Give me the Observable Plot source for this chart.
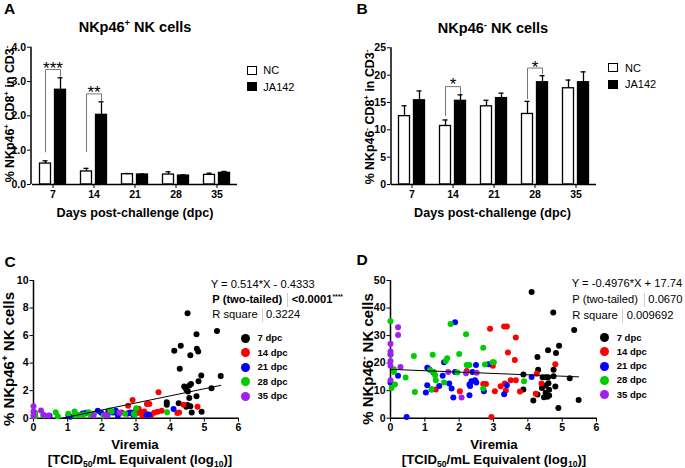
<!DOCTYPE html>
<html><head><meta charset="utf-8">
<script src="https://cdn.jsdelivr.net/npm/d3@7"></script>
<script src="https://cdn.jsdelivr.net/npm/@observablehq/plot@0.6"></script>
<style>
body{margin:0;background:#fff;}
#fig{position:relative;width:685px;height:468px;overflow:hidden;font-family:"Liberation Sans",Arial,sans-serif;color:#000;background:#fff;}
#fig svg{position:absolute;left:0;top:0;}
.t{position:absolute;white-space:nowrap;line-height:1;}
.c{transform:translate(-50%,-50%);}
.l{transform:translate(0,-50%);}
.r{transform:translate(-50%,-50%) rotate(-90deg);}
.sup{font-size:65%;position:relative;top:-0.6em;}
.sub{font-size:65%;position:relative;top:0.3em;}
.sep{position:absolute;width:1px;background:#cfcfcf;}
.box{position:absolute;box-sizing:border-box;border:1.3px solid #000;}
.dotlg{position:absolute;border-radius:50%;}
</style></head>
<body><div id="fig"></div>
<script>
const W = 685, H = 468;

// ---------- Bar panels (A, B) ----------
const days = [7, 14, 21, 28, 35];
const groups = ["NC", "JA142"];

const aMeanNC = [0.61, 0.38, 0.30, 0.29, 0.28];
const aSemNC  = [0.08, 0.09, 0.02, 0.08, 0.05];
const aMeanJA = [2.76, 2.03, 0.29, 0.26, 0.34];
const aSemJA  = [0.35, 0.38, 0.015, 0.02, 0.04];
const aYTicks = [0, 1, 2, 3, 4];
const aBrackets = [
  {day: 7,  left: 0.95, top: 3.35, right: 3.15, stars: "***", starY: 3.50},
  {day: 14, left: 0.96, top: 2.64, right: 2.43, stars: "**",  starY: 2.80}
];

const bMeanNC = [12.5, 10.7, 14.3, 12.9, 17.6];
const bSemNC  = [1.9, 1.1, 1.1, 2.3, 1.5];
const bMeanJA = [15.4, 15.3, 15.8, 18.7, 18.7];
const bSemJA  = [1.7, 1.1, 0.9, 1.2, 1.9];
const bYTicks = [0, 5, 10, 15, 20, 25];
const bBrackets = [
  {day: 14, left: 12.6, top: 17.9, right: 16.6, stars: "*", starY: 19.0},
  {day: 28, left: 15.7, top: 21.3, right: 20.2, stars: "*", starY: 22.1}
];

// ---------- Scatter panels (C, D) ----------
const dpcLabels = ["7 dpc", "14 dpc", "21 dpc", "28 dpc", "35 dpc"];
const dpcColors = ["#000000", "#ff0000", "#0000ff", "#00cc00", "#a020f0"];

const c7 = [[4.51,7.63],[5.37,6.33],[4.77,6.09],[4.31,5.26],[4.12,4.89],[4.78,5.04],[4.82,4.84],[4.59,4.57],[4.28,3.59],[4.91,3.10],[5.48,3.06],[4.61,2.49],[4.56,2.37],[4.41,2.30],[4.83,2.69],[4.45,2.20],[4.48,2.05],[4.52,1.93],[5.21,2.18],[4.77,1.59],[4.56,1.47],[3.90,1.15],[3.90,0.98],[4.25,1.08],[4.51,0.95],[4.59,0.86],[4.63,0.42],[4.92,0.46],[4.47,0.83]];
const c14 = [[3.66,1.88],[2.90,1.32],[2.77,0.90],[3.32,1.03],[3.39,1.03],[4.39,0.98],[4.80,0.83],[3.00,0.61],[3.08,0.68],[3.15,0.42],[3.24,0.49],[3.53,0.39],[3.63,0.46],[3.75,0.54],[4.26,0.42],[4.21,0.37],[2.46,0.29],[2.58,0.42],[2.74,0.34],[3.05,0.37],[3.34,0.29],[3.44,0.22],[2.83,0.42],[3.19,0.20]];
const c21 = [[4.10,0.66],[1.88,0.54],[1.44,0.34],[1.08,0.10],[1.02,0.22],[0.47,0.17],[2.32,0.42],[2.41,0.54],[2.47,0.20],[3.31,0.25],[3.38,0.25],[1.98,0.40],[1.54,0.39],[2.76,0.34],[2.89,0.39],[2.92,0.25],[2.19,0.49],[2.83,0.39]];
const c28 = [[3.01,0.73],[3.91,0.44],[0.65,0.44],[0.71,0.15],[1.20,0.49],[1.22,0.20],[1.02,0.32],[1.32,0.25],[1.46,0.25],[1.61,0.44],[1.66,0.25],[1.76,0.32],[2.05,0.20],[2.24,0.56],[2.29,0.49],[2.68,0.32],[2.96,0.25],[0.05,0.39],[0.05,0.15],[0.29,0.20],[2.94,0.32]];
const c35 = [[0.00,0.87],[0.00,0.49],[0.00,0.20],[0.22,0.56],[0.29,0.25],[0.44,0.20],[1.76,0.20],[2.10,0.25],[2.17,0.20],[2.51,0.39]];
const cFit = [0.514, -0.4333];
const cYTicks = [0, 2, 4, 6, 8, 10];

const d7 = [[4.11,45.8],[4.74,38.4],[5.35,32.0],[4.91,26.3],[4.59,24.7],[4.82,23.7],[4.28,22.2],[3.87,15.9],[4.30,17.6],[4.75,17.6],[4.43,14.9],[4.52,14.9],[4.59,14.9],[4.75,15.2],[5.22,14.5],[4.60,12.7],[4.52,11.9],[4.41,11.0],[4.80,11.5],[4.62,10.3],[3.87,10.4],[4.28,8.6],[4.52,9.2],[4.47,7.6],[4.57,7.8],[4.62,8.2],[4.16,6.4],[5.48,6.6],[4.89,3.7]];
const d14 = [[2.90,32.5],[3.31,33.3],[3.39,33.3],[3.65,29.3],[3.42,23.9],[3.62,21.1],[4.80,19.6],[2.98,19.0],[4.26,16.1],[2.22,17.1],[4.40,12.6],[1.32,10.4],[2.02,9.8],[2.70,12.4],[2.78,12.4],[3.04,9.8],[3.21,11.6],[3.33,12.6],[3.50,13.8],[3.65,13.8],[3.36,10.1],[3.77,9.7],[4.23,8.9],[2.94,0.4]];
const d21 = [[1.88,34.8],[0.22,15.4],[0.00,13.0],[1.07,18.3],[1.13,17.8],[1.25,16.6],[1.52,15.4],[1.56,20.3],[1.42,11.7],[1.07,12.0],[1.03,9.3],[1.20,10.4],[1.71,12.6],[1.78,10.8],[1.83,7.5],[1.88,16.8],[2.30,12.2],[2.32,11.7],[2.36,13.4],[2.39,16.8],[2.49,19.3],[2.46,13.8],[2.30,8.3],[0.47,0.4],[2.72,9.8],[2.50,13.0],[3.39,12.0],[3.31,8.7],[4.11,15.0],[2.85,19.6]];
const d28 = [[0.00,35.2],[1.75,34.2],[2.20,30.5],[2.70,25.6],[0.68,22.6],[1.23,23.0],[2.00,23.3],[1.65,21.8],[1.61,20.8],[0.00,23.0],[2.22,19.3],[2.30,19.3],[2.75,19.5],[2.97,20.3],[3.01,20.3],[0.10,17.8],[0.10,16.8],[1.15,17.5],[1.26,16.8],[1.30,15.6],[1.32,13.8],[1.56,13.0],[0.44,14.8],[1.95,16.6],[1.20,10.5],[0.13,12.2],[0.03,11.0],[0.71,9.5],[2.70,10.8],[3.89,13.4]];
const d35 = [[0.22,33.0],[0.22,30.2],[0.00,27.0],[0.00,24.2],[0.00,23.2],[0.00,20.8],[0.00,19.0],[0.29,18.6],[0.00,13.8],[1.68,16.8],[2.20,16.3],[2.51,16.5],[2.07,7.5]];
const dFit = [-0.4976, 17.74];
const dYTicks = [0, 10, 20, 30, 40, 50];
const xTicks = [0, 1, 2, 3, 4, 5, 6];

// ---------- helpers ----------
const fig = document.getElementById("fig");
const baseStyle = {background: "transparent", fontFamily: '"Liberation Sans", Arial, sans-serif', fontSize: "10.5px", fontWeight: "bold", color: "#000", overflow: "visible"};

function barRows(mNC, sNC, mJA, sJA) {
  return days.flatMap((d, i) => [
    {day: d, group: "NC", mean: mNC[i], top: mNC[i] + sNC[i]},
    {day: d, group: "JA142", mean: mJA[i], top: mJA[i] + sJA[i]}
  ]);
}
function bracketPts(br) {
  return br.flatMap((b, i) => [
    {id: i, day: b.day, group: "NC", y: b.left},
    {id: i, day: b.day, group: "NC", y: b.top},
    {id: i, day: b.day, group: "JA142", y: b.top},
    {id: i, day: b.day, group: "JA142", y: b.right}
  ]);
}
function margins(f) {
  return {width: W, height: H, marginLeft: f.x0, marginRight: W - f.x1, marginTop: f.yTop, marginBottom: H - f.yBot, style: baseStyle};
}
const axisPlots = [];
function barPanel(rows, br, f, yDomain, yTicks) {
  fig.appendChild(Plot.plot({
    ...margins(f),
    fx: {domain: days, padding: 0, axis: "bottom", label: null, tickSize: 4, tickPadding: 2},
    x: {domain: groups, paddingInner: 0.28, paddingOuter: 0.5, axis: null},
    y: {domain: yDomain, axis: null},
    marks: [
      Plot.barY(rows, {filter: d => d.group === "NC", fx: "day", x: "group", y: "mean", fill: "white", stroke: "black", strokeWidth: 1.3}),
      Plot.barY(rows, {filter: d => d.group === "JA142", fx: "day", x: "group", y: "mean", fill: "black", stroke: "black", strokeWidth: 1.3}),
      Plot.ruleX(rows, {fx: "day", x: "group", y1: "mean", y2: "top", strokeWidth: 1.3}),
      Plot.tickY(rows, {fx: "day", x: "group", y: "top", insetLeft: 3, insetRight: 3, strokeWidth: 1.3}),
      Plot.line(bracketPts(br), {fx: "day", x: "group", y: "y", z: "id", stroke: "#777", strokeWidth: 1}),
      Plot.text(br, {fx: "day", y: "starY", text: "stars", frameAnchor: "middle", dy: 4, fontSize: 17, fontWeight: "normal"}),
      Plot.ruleY([0], {strokeWidth: 1.5})
    ]
  }));
  // y axis of the same panel, drawn on an unfaceted plot with identical frame
  const axisRows = [{x: 0, y1: yDomain[0], y2: yDomain[1]}];
  axisPlots.push(Plot.plot({
    ...margins(f),
    x: {domain: [0, 1], axis: null},
    y: {domain: yDomain, axis: null},
    marks: [
      Plot.ruleX(axisRows, {x: "x", y1: "y1", y2: "y2", strokeWidth: 1.5}),
      Plot.axisY({ticks: yTicks, tickSize: 3.5, tickPadding: 1.5, label: null})
    ]
  }));
}
function scatterPts(series) {
  return series.flatMap((arr, i) => arr.map(([x, y]) => ({x, y, series: dpcLabels[i]})));
}
function scatterPanel(pts, coef, xs, f, yDomain, yTicks) {
  const fit = xs.map(x => ({x, y: coef[0] * x + coef[1]}));
  fig.appendChild(Plot.plot({
    ...margins(f),
    x: {domain: [0, 6], ticks: xTicks, tickFormat: "d", tickSize: 4, tickPadding: 1.5, label: null},
    y: {domain: yDomain, ticks: yTicks, tickFormat: "d", tickSize: 3.5, tickPadding: 1.5, label: null},
    color: {domain: dpcLabels, range: dpcColors},
    marks: [
      Plot.ruleX([0], {strokeWidth: 1.5}),
      Plot.ruleY([0], {strokeWidth: 1.5}),
      Plot.dot(pts, {x: "x", y: "y", fill: "series", r: 3}),
      Plot.line(fit, {x: "x", y: "y", stroke: "black", strokeWidth: 1})
    ]
  }));
}
function txt(html, x, y, cls, size, weight) {
  const d = document.createElement("div");
  d.className = "t " + cls;
  d.style.left = x + "px"; d.style.top = y + "px";
  d.style.fontSize = size + "px";
  d.style.fontWeight = weight || "normal";
  d.innerHTML = html;
  fig.appendChild(d);
  return d;
}
function sep(x, y0, h) {
  const d = document.createElement("div");
  d.className = "sep"; d.style.left = x + "px"; d.style.top = y0 + "px"; d.style.height = h + "px";
  fig.appendChild(d);
}
function box(x, y, w, h, fill) {
  const d = document.createElement("div");
  d.className = "box";
  Object.assign(d.style, {left: x + "px", top: y + "px", width: w + "px", height: h + "px", background: fill});
  fig.appendChild(d);
}
function dotLegend(cx, cy0, step, tx) {
  dpcLabels.forEach((lab, i) => {
    const d = document.createElement("div");
    d.className = "dotlg";
    const cy = cy0 + i * step, r = 4.5;
    Object.assign(d.style, {left: (cx - r) + "px", top: (cy - r) + "px", width: 2 * r + "px", height: 2 * r + "px", background: dpcColors[i]});
    fig.appendChild(d);
    txt(lab, tx, cy, "l", 9.5, "bold");
  });
}

// ---------- draw ----------
barPanel(barRows(aMeanNC, aSemNC, aMeanJA, aSemJA), aBrackets, {x0: 30.5, x1: 239.3, yTop: 46.7, yBot: 184}, [0, 4], aYTicks);
barPanel(barRows(bMeanNC, bSemNC, bMeanJA, bSemJA), bBrackets, {x0: 390.5, x1: 595.5, yTop: 47.3, yBot: 184}, [0, 25], bYTicks);

const ptsC = scatterPts([c7, c14, c21, c28, c35]);
const ptsD = scatterPts([d7, d14, d21, d28, d35]);
scatterPanel(ptsC, cFit, [-cFit[1] / cFit[0], d3.max(ptsC, d => d.x)], {x0: 33, x1: 238, yTop: 280, yBot: 417.7}, [0, 10], cYTicks);
scatterPanel(ptsD, dFit, [0, d3.max(ptsD, d => d.x)], {x0: 390, x1: 596, yTop: 280, yBot: 417.7}, [0, 50], dYTicks);
axisPlots.forEach(p => fig.appendChild(p));

// Panel letters
txt("A", 4, 8.5, "l", 15.5, "bold");
txt("B", 356.5, 8.5, "l", 15.5, "bold");
txt("C", 4.5, 262, "l", 15.5, "bold");
txt("D", 356.5, 260, "l", 15.5, "bold");

// Titles
txt('NKp46<span class="sup">+</span> NK cells', 135, 26.5, "c", 14.5, "bold");
txt('NKp46<span class="sup">-</span> NK cells', 493, 28.3, "c", 14.5, "bold");

// Axis titles A/B
txt('% NKp46<span class="sup">+</span> CD8<span class="sup">+</span> in CD3<span class="sup">-</span>', 10, 114, "r", 12.4, "bold");
txt('% NKp46<span class="sup">-</span> CD8<span class="sup">+</span> in CD3<span class="sup">-</span>', 369.5, 117, "r", 12.4, "bold");
txt("Days post-challenge (dpc)", 135, 213.3, "c", 12.6, "bold");
txt("Days post-challenge (dpc)", 492.5, 213.3, "c", 12.6, "bold");

// Legends A/B
box(246.7, 66, 10, 8.5, "#fff"); txt(groups[0], 263.3, 70.3, "l", 11);
box(246.7, 82.3, 10, 8.5, "#000"); txt(groups[1], 263.3, 86.5, "l", 11);
box(608, 63.3, 10, 8.5, "#fff"); txt(groups[0], 625, 67.5, "l", 11);
box(608, 80, 10, 8.5, "#000"); txt(groups[1], 625, 84.2, "l", 11);

// Axis titles C/D
txt('% NKp46<span class="sup">+</span> NK cells', 8, 359, "r", 15, "bold");
txt('% NKp46<span class="sup">-</span> NK cells', 367.3, 359, "r", 15, "bold");
txt("Viremia", 135, 445, "c", 13.2, "bold");
txt('[TCID<span class="sub">50</span>/mL Equivalent (log<span class="sub">10</span>)]', 140, 460, "c", 13.2, "bold");
txt("Viremia", 494, 445, "c", 13.2, "bold");
txt('[TCID<span class="sub">50</span>/mL Equivalent (log<span class="sub">10</span>)]', 494, 460, "c", 13.2, "bold");

// Stats C
txt("Y = " + cFit[0] + "*X - " + Math.abs(cFit[1]), 210.7, 285, "l", 11.2);
txt("P (two-tailed)", 212.3, 300, "l", 11.2, "bold");
sep(286.7, 293, 14);
txt('&lt;0.0001<span class="sup" style="font-size:60%">****</span>', 291.7, 300, "l", 11.2, "bold");
txt("R square", 212.3, 315.3, "l", 11.2);
sep(261.7, 308.3, 14);
txt("0.3224", 266, 315.3, "l", 11.2);

// Stats D
txt("Y = " + dFit[0] + "*X + " + dFit[1], 571.7, 284.3, "l", 11.2);
txt("P (two-tailed)", 572.3, 300, "l", 11.2);
sep(644, 293, 14);
txt("0.0670", 648.3, 300, "l", 11.2);
txt("R square", 572.3, 315.7, "l", 11.2);
sep(621.7, 308.7, 14);
txt("0.009692", 626.7, 315.7, "l", 11.2);

// Legends C/D
dotLegend(245.8, 338, 14.5, 257.5);
dotLegend(604.3, 337.5, 14.3, 616.7);
</script></body></html>
